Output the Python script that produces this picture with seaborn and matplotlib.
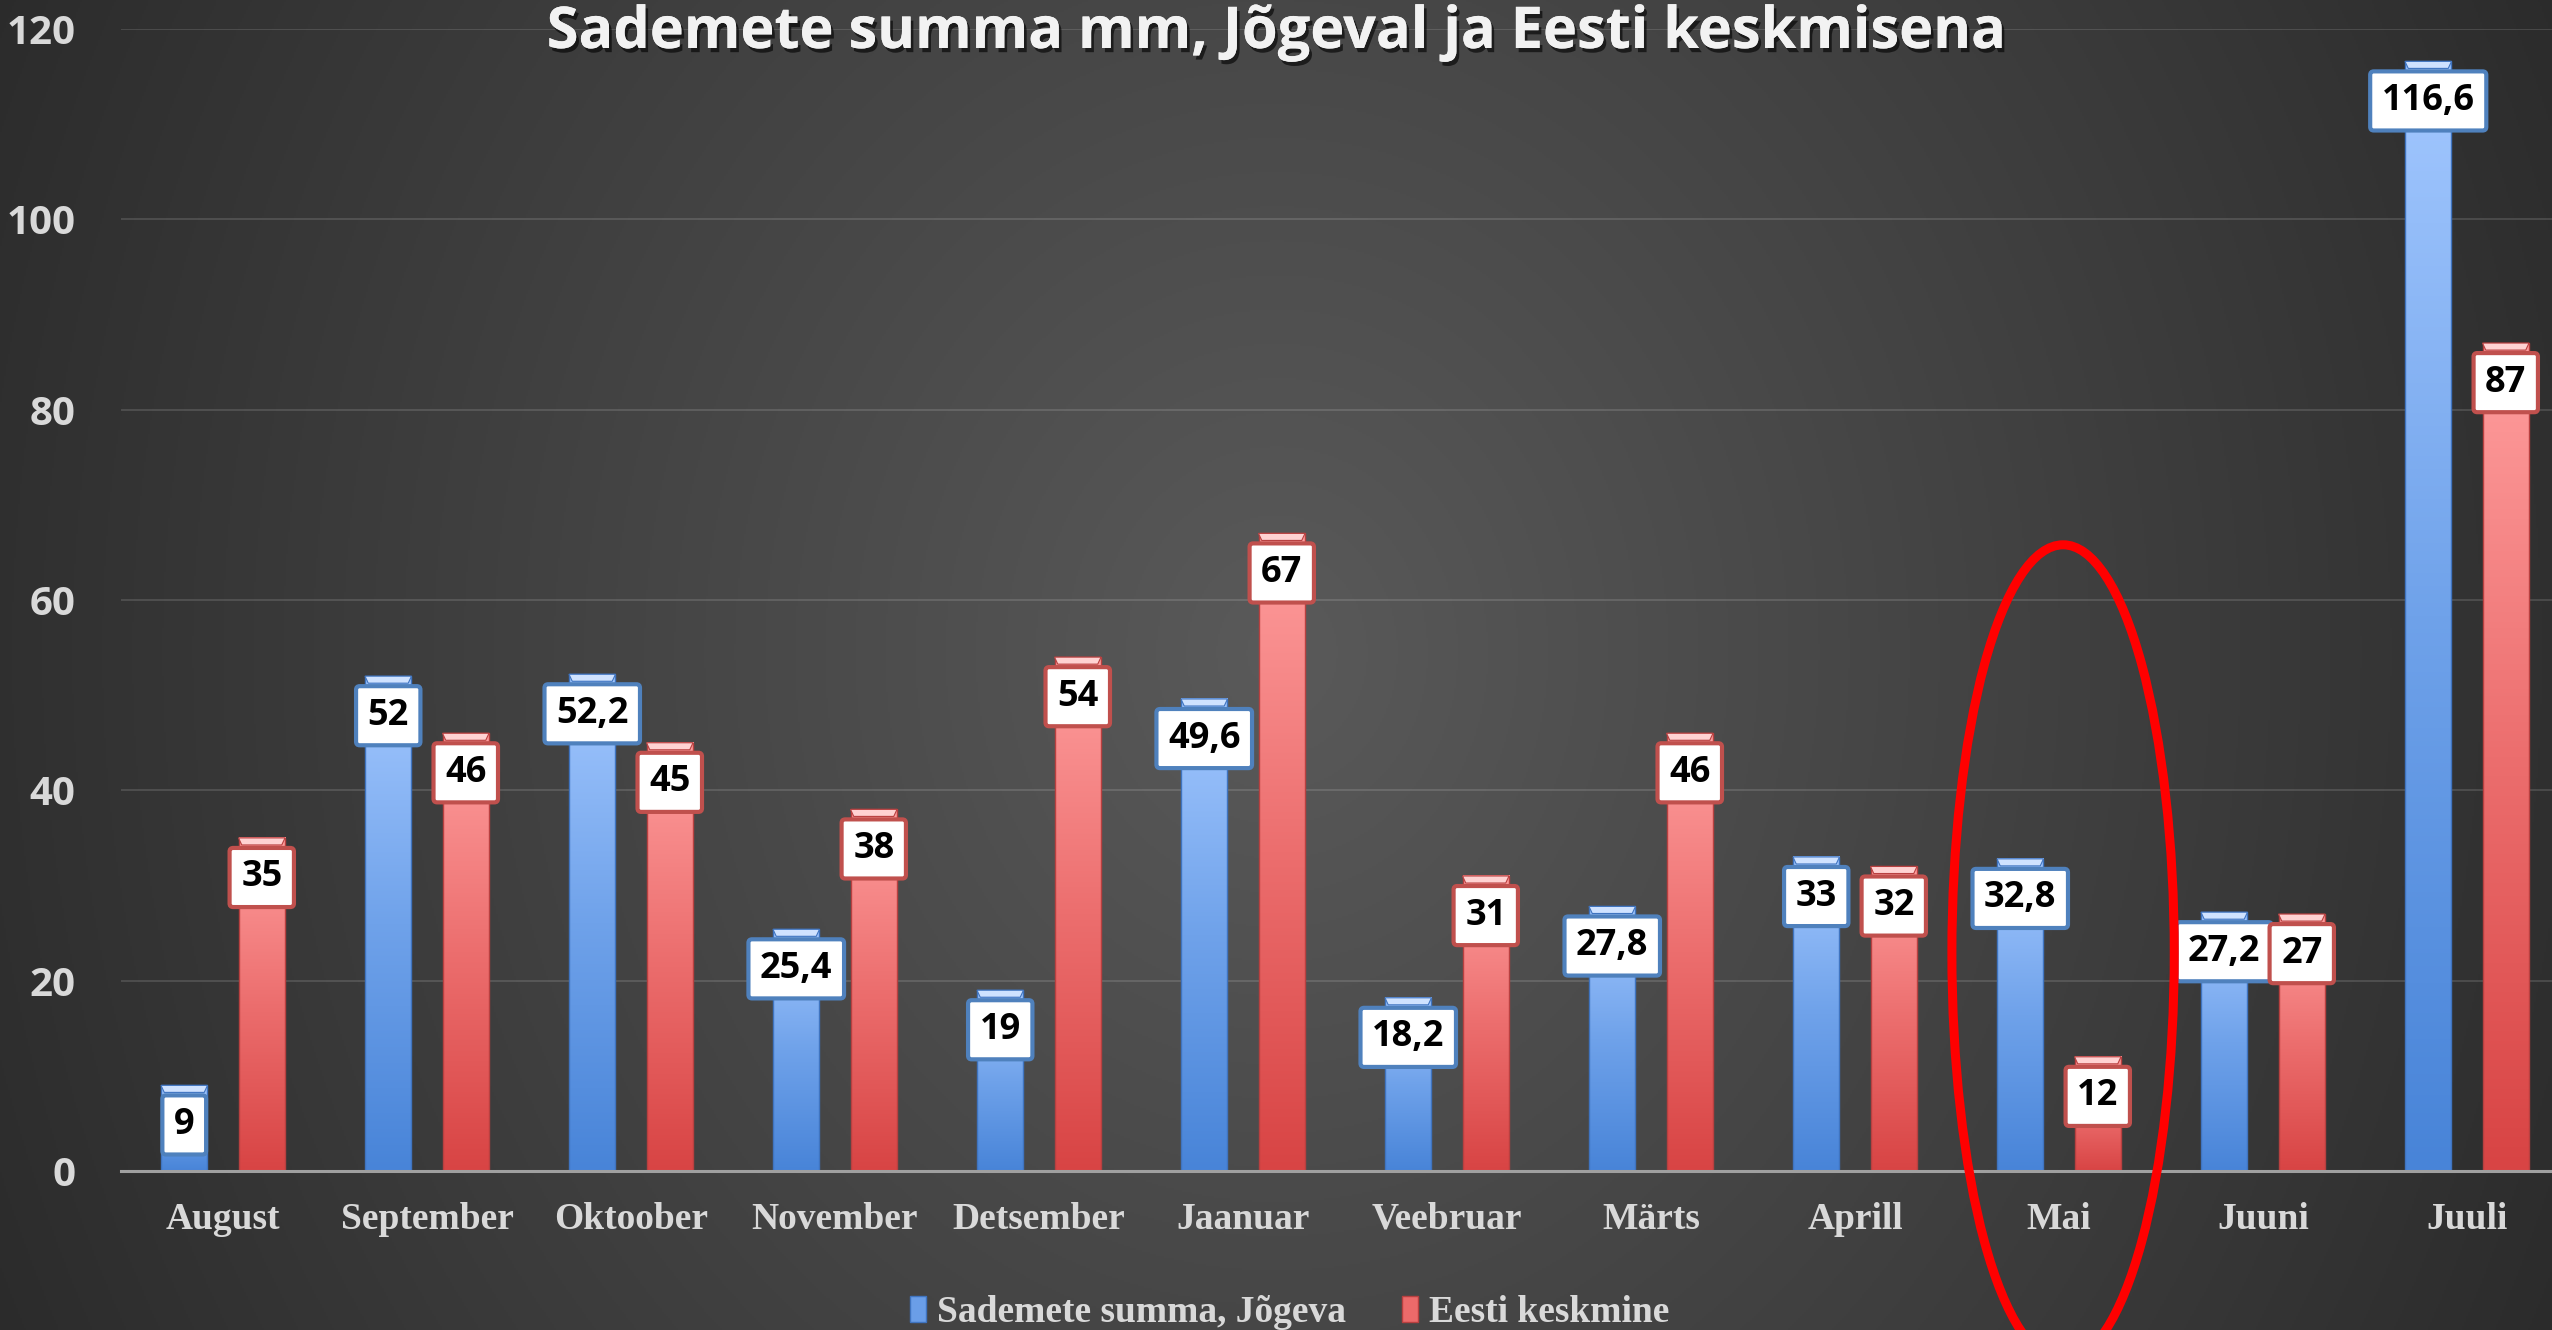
import numpy as np
import pandas as pd
import matplotlib
matplotlib.use("Agg")
import matplotlib.pyplot as plt
import seaborn as sns
from matplotlib.patches import Ellipse, Polygon, Patch
from matplotlib.colors import LinearSegmentedColormap
import matplotlib.patheffects as pe

# ---------------- data ----------------
months = ["August", "September", "Oktoober", "November", "Detsember", "Jaanuar",
          "Veebruar", "Märts", "Aprill", "Mai", "Juuni", "Juuli"]
jogeva = [9, 52, 52.2, 25.4, 19, 49.6, 18.2, 27.8, 33, 32.8, 27.2, 116.6]
eesti = [35, 46, 45, 38, 54, 67, 31, 46, 32, 12, 27, 87]
series = ["Sademete summa, Jõgeva", "Eesti keskmine"]
yticks = [0, 20, 40, 60, 80, 100, 120]
title = "Sademete summa mm, Jõgeval ja Eesti keskmisena"
highlight = "Mai"

df = pd.DataFrame({
    "kuu": months * 2,
    "sari": [series[0]] * len(months) + [series[1]] * len(months),
    "mm": jogeva + eesti,
})

# ---------------- style ----------------
sns.set_theme(style="dark")
plt.rcParams["font.family"] = ["Open Sans", "DejaVu Sans"]
SERIF = ["Liberation Serif", "DejaVu Serif"]
TXT = "#d9d9d9"

blue_mid, red_mid = "#6a9ee8", "#ec6a6a"
blue_cmap = LinearSegmentedColormap.from_list("b", ["#4884d8", "#6fa2ea", "#a3c8ff"])
red_cmap = LinearSegmentedColormap.from_list("r", ["#d84444", "#ec6e6e", "#ff9e9e"])
blue_cap, red_cap = "#cfe2ff", "#ffd2d2"
blue_edge, red_edge = "#3f74c0", "#b84040"
blue_box, red_box = "#4f81bd", "#c0504d"

fig = plt.figure(figsize=(25.52, 13.3), dpi=100)

# radial background
bg = fig.add_axes([0, 0, 1, 1], zorder=-10)
H, W = 665, 1276
yy, xx = np.mgrid[0:H, 0:W]
r = np.sqrt(((xx - W * 0.5) / (W * 0.59)) ** 2 + ((yy - H * 0.49) / (H * 1.29)) ** 2)
g = (90 - 50 * np.clip(r, 0, 1)) / 255.0
bg.imshow(np.dstack([g, g, g]), extent=[0, 1, 0, 1], aspect="auto")
bg.axis("off")
fig.patch.set_facecolor("#2c2c2c")

ax = fig.add_axes([121 / 2552, 159 / 1330, 2448 / 2552, 1142 / 1330])
ax.set_facecolor("none")

sns.barplot(data=df, x="kuu", y="mm", hue="sari", order=months, hue_order=series,
            palette=[blue_mid, red_mid], saturation=1, width=0.76, gap=0.4,
            errorbar=None, legend=False, ax=ax)

cap_h = 0.74
for cont, cmap, capc, edgec, boxc, vals in zip(
        ax.containers, [blue_cmap, red_cmap], [blue_cap, red_cap],
        [blue_edge, red_edge], [blue_box, red_box], [jogeva, eesti]):
    for bar, v in zip(cont, vals):
        x, w, h = bar.get_x(), bar.get_width(), bar.get_height()
        grad = np.linspace(0, 1, 256).reshape(-1, 1)
        ax.imshow(grad, extent=[x, x + w, 0, h], origin="lower", cmap=cmap,
                  aspect="auto", zorder=2, interpolation="bilinear")
        bar.set_facecolor("none")
        bar.set_edgecolor(edgec)
        bar.set_linewidth(1.0)
        bar.set_zorder(3)
        d = w * 0.07
        ax.add_patch(Polygon([(x, h), (x + w, h), (x + w - d, h - cap_h), (x + d, h - cap_h)],
                             closed=True, fc=capc, ec=edgec, lw=0.8, zorder=4))
        txt = f"{v:g}".replace(".", ",")
        ax.annotate(txt, (x + w / 2, h), xytext=(0, -28.5), textcoords="offset points",
                    ha="center", va="center", fontsize=26, fontweight="bold",
                    color="black", annotation_clip=False, zorder=6,
                    bbox=dict(boxstyle="round,pad=0.32,rounding_size=0.1",
                              fc="white", ec=boxc, lw=3))

ax.set_xlim(-0.5, len(months) - 0.5)
ax.set_ylim(0, 120)
ax.set_yticks(yticks)
ax.set_yticklabels([str(t) for t in yticks])
ax.set_xlabel("")
ax.set_ylabel("")

ax.tick_params(axis="y", length=0, pad=33, labelsize=29, colors=TXT)
ax.tick_params(axis="x", length=0, pad=22, labelsize=27, colors=TXT)
for lab in ax.get_yticklabels():
    lab.set_fontweight("bold")
for lab in ax.get_xticklabels():
    lab.set_family(SERIF)
    lab.set_fontweight("bold")

ax.yaxis.grid(True, color="white", alpha=0.13, lw=1.5)
ax.xaxis.grid(False)
ax.set_axisbelow(True)
for s in ["left", "right", "top"]:
    ax.spines[s].set_visible(False)
ax.spines["bottom"].set_color("#a0a0a0")
ax.spines["bottom"].set_linewidth(2.2)
ax.spines["bottom"].set_zorder(5)

# highlight ellipse around "Mai"
mi = months.index(highlight)
ax.add_patch(Ellipse((mi + 0.02, 22.9), width=1.09, height=85.8, fill=False,
                     ec="#ff0000", lw=6.5, zorder=7, clip_on=False))

# title
fig.text(0.5, 1 - 48 / 1330, title, ha="center", va="baseline", fontsize=41.5,
         fontweight="bold", color="#f2f2f2",
         path_effects=[pe.withSimplePatchShadow(offset=(2, -3), shadow_rgbFace="black", alpha=0.6),
                       pe.Normal()])

# legend
handles = [Patch(facecolor=blue_mid, edgecolor=blue_edge), Patch(facecolor=red_mid, edgecolor=red_edge)]
fig.legend(handles, series, loc="lower center", bbox_to_anchor=(0.5055, 0.0), ncol=2,
           frameon=False, prop=dict(family=SERIF, weight="bold", size=27),
           labelcolor=TXT, handlelength=0.42, handleheight=0.7, handletextpad=0.3,
           columnspacing=1.5, borderpad=0, borderaxespad=0)

fig.savefig("out.png", dpi=100)
